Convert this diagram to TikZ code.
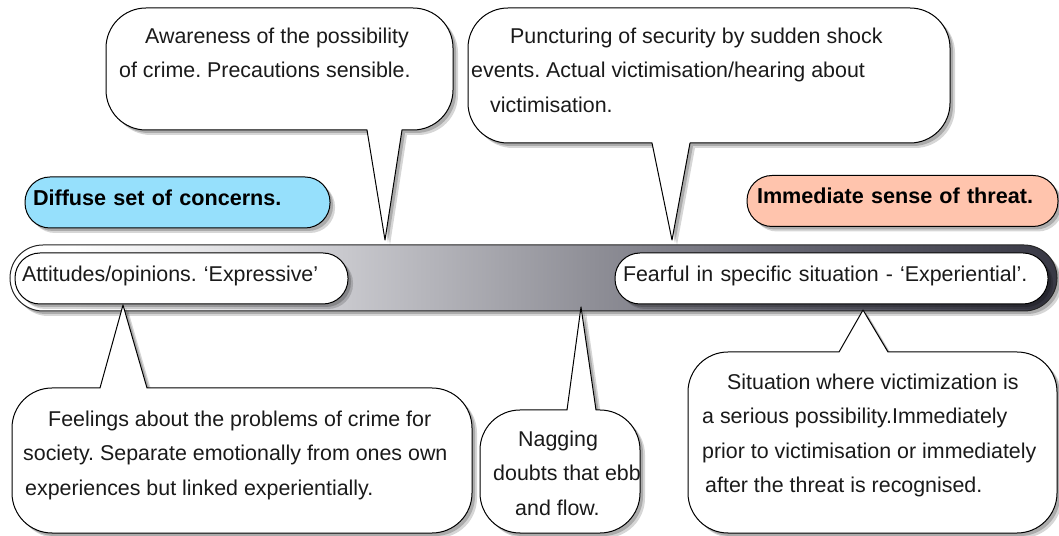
\documentclass[tikz,border=0pt]{standalone}
\usepackage{fontspec}
\setmainfont{Liberation Sans}
\frenchspacing
\definecolor{txt}{HTML}{1A1A1A}
\definecolor{blueb}{HTML}{96E0FC}
\definecolor{salmon}{HTML}{FFC4AD}
\definecolor{barA}{HTML}{C8C8CD}
\definecolor{barB}{HTML}{8E8E96}
\definecolor{barC}{HTML}{62626E}
\definecolor{barD}{HTML}{383844}
\pgfdeclarehorizontalshading{barshade}{100bp}{color(0bp)=(white); color(25bp)=(white); color(28bp)=(white); color(41bp)=(barA); color(53bp)=(barB); color(63bp)=(barC); color(75bp)=(barD); color(100bp)=(barD)}
\tikzset{
  softshadow/.style={preaction={fill=black,opacity=.16,transform canvas={xshift=5pt,yshift=-5pt}},
                     preaction={fill=black,opacity=.2,transform canvas={xshift=3pt,yshift=-3pt}}},
  bubble/.style={softshadow, fill=white, draw=black, line width=1pt, line join=round},
  pill/.style={softshadow, fill=white, draw=black, line width=1pt, rounded corners=25pt,
               minimum height=51pt, inner xsep=7pt, inner ysep=0pt, align=left,
               text height=10pt, text depth=3pt, font=\fontsize{21.4pt}{25pt}\selectfont, text=txt},
  tagbox/.style={softshadow, draw=black, line width=1pt, rounded corners=25pt,
               minimum height=51pt, inner xsep=8pt, inner ysep=0pt, align=left,
               text height=10pt, text depth=4pt, font=\fontsize{21.6pt}{25pt}\selectfont\bfseries, text=black},
  ctext/.style={anchor=north west, inner sep=0pt, align=left,
               font=\fontsize{21.4pt}{34.5pt}\selectfont, text=txt},
}
% #1 L, #2 B, #3 R, #4 T, #5 radius, #6 base left x, #7 base right x, #8 tip x, #9 tip y
\newcommand\bubbledown[9]{%
  \filldraw[bubble] ({#1+#5},#4) -- ({#3-#5},#4) arc[start angle=90,end angle=0,radius=#5pt]
    -- (#3,{#2+#5}) arc[start angle=0,end angle=-90,radius=#5pt]
    -- (#7,#2) -- (#8,#9) -- (#6,#2)
    -- ({#1+#5},#2) arc[start angle=270,end angle=180,radius=#5pt]
    -- (#1,{#4-#5}) arc[start angle=180,end angle=90,radius=#5pt] -- cycle;}
\newcommand\bubbleup[9]{%
  \filldraw[bubble] ({#1+#5},#4) -- (#6,#4) -- (#8,#9) -- (#7,#4)
    -- ({#3-#5},#4) arc[start angle=90,end angle=0,radius=#5pt]
    -- (#3,{#2+#5}) arc[start angle=0,end angle=-90,radius=#5pt]
    -- ({#1+#5},#2) arc[start angle=270,end angle=180,radius=#5pt]
    -- (#1,{#4-#5}) arc[start angle=180,end angle=90,radius=#5pt] -- cycle;}
\begin{document}
\begin{tikzpicture}[x=1pt,y=1pt]
\useasboundingbox (0,0) rectangle (1059,535);
\fill[white] (0,0) rectangle (1059,535);

% the bar
\shadedraw[softshadow, shading=barshade, draw=black!85, line width=1pt, rounded corners=33pt]
  (10,224) rectangle (1057,290);

% pills on the bar
\node[pill, text width=319pt] (expr) at (181.5,256.5) {Attitudes/opinions. ‘Expressive’};
\node[pill, text width=417pt, inner xsep=8pt] (exper) at (831.5,256.5) {Fearful in specific situation - ‘Experiential’.};

% coloured tags
\node[tagbox, fill=blueb, text width=289pt] (diffuse) at (177.5,332.5) {Diffuse set of concerns.};
\node[tagbox, fill=salmon, text width=291pt, inner xsep=10pt] (threat) at (902.5,334) {Immediate sense of threat.};

% callouts
\bubbledown{106}{405}{453}{527}{40}{367}{402}{385}{295}
\bubbledown{468}{392}{950}{527}{40}{652}{690}{672}{295}
\bubbleup{12}{2}{472}{147}{40}{100}{147}{123}{230}
\bubbleup{480}{2}{640}{125}{40}{567}{596}{581}{228}
\bubbleup{688}{2}{1057}{183}{40}{839}{888}{863}{225}

\node[ctext] (tA) at (119,508) {\hspace*{26pt}\rule{0pt}{16pt}Awareness of the possibility\\of crime. Precautions sensible.};
\node[ctext] (tP) at (471,508) {\hspace*{39pt}\rule{0pt}{16pt}Puncturing of security by sudden shock\\events. Actual victimisation/hearing about\\\hspace*{19pt}victimisation.};
\node[ctext] (tF) at (23,125) {\hspace*{25pt}\rule{0pt}{16pt}Feelings about the problems of crime for\\society. Separate emotionally from ones own\\\hspace*{2pt}experiences but linked experientially.};
\node[ctext] (tN) at (493,105) {\hspace*{25pt}\rule{0pt}{16pt}Nagging\\doubts that ebb\\\hspace*{22pt}and flow.};
\node[ctext] (tS) at (702,162) {\hspace*{25pt}\rule{0pt}{16pt}Situation where victimization is\\a serious possibility.Immediately\\prior to victimisation or immediately\\\hspace*{3pt}after the threat is recognised.};
\end{tikzpicture}
\end{document}
